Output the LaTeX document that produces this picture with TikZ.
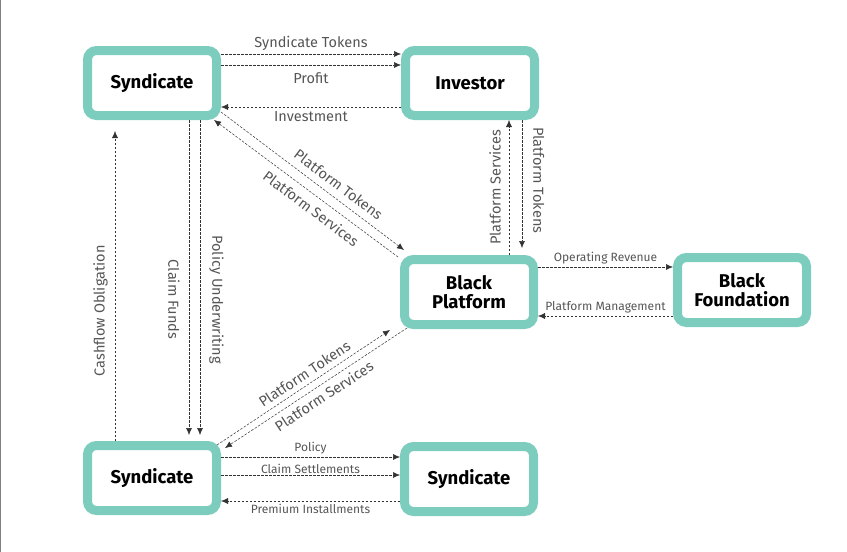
\documentclass[tikz,border=0pt]{standalone}
\usepackage{fontspec}
\setmainfont{Fira Sans}
\usetikzlibrary{arrows.meta}

\definecolor{teal1}{HTML}{7DCDBF}
\definecolor{flowgray}{HTML}{333333}
\definecolor{labelgray}{HTML}{555555}

\tikzset{
    party/.style={draw=teal1, line width=9pt, fill=white, rounded corners=9pt,
        minimum width=129pt, minimum height=65pt, inner sep=0pt, outer sep=4.5pt,
        align=center, font=\fontsize{18.5}{19}\selectfont\bfseries},
    flow/.style={draw=flowgray, dashed, dash pattern=on 2.5pt off 1.5pt, line width=0.5pt,
        -{Latex[length=7pt,width=6pt]}},
    lbl/.style={text=labelgray, font=\fontsize{14.5}{15}\selectfont, inner sep=3pt},
    smalllbl/.style={text=labelgray, font=\fontsize{12}{13}\selectfont, inner sep=2.5pt}
}

\begin{document}
\begin{tikzpicture}[x=1pt, y=-1pt]
    % Fix the size of the page
    \useasboundingbox (0,0) rectangle (847,552);
    \draw[gray, line width=0.8pt] (0.5,0) -- (0.5,552);

    % Define the boxes
    \node[party] (syn1) at (152,83) {Syndicate};
    \node[party] (inv) at (470,83) {Investor};
    \node[party] (plat) at (469,292) {Black\\Platform};
    \node[party] (found) at (742,290) {Black\\Foundation};
    \node[party] (syn2) at (152,478) {Syndicate};
    \node[party] (syn3) at (469,479) {Syndicate};

    % Draw the flows between syndicate and investor
    \draw[flow] ([yshift=29pt]syn1.east) -- ([yshift=29pt]syn1.east -| inv.west)
        node[midway, above, lbl] {Syndicate Tokens};
    \draw[flow] ([yshift=18pt]syn1.east) -- ([yshift=18pt]syn1.east -| inv.west)
        node[midway, below=4pt, lbl] {Profit};
    \draw[flow] ([yshift=-24pt]inv.west) -- ([yshift=-24pt]inv.west -| syn1.east)
        node[midway, below=1pt, lbl] {Investment};

    % Draw the flows between investor and platform
    \draw[flow] ([xshift=40pt]plat.north) -- ([xshift=40pt]plat.north |- inv.south)
        node[midway, above=5pt, sloped, lbl] {Platform Services};
    \draw[flow] ([xshift=52pt]inv.south) -- ([xshift=52pt,yshift=7pt]inv.south |- plat.north)
        node[pos=0.47, above=8pt, sloped, lbl] {Platform Tokens};

    % Draw the flows between platform and foundation
    \draw[flow] ([yshift=25pt]plat.east) -- ([yshift=25pt]plat.east -| found.west)
        node[midway, above, smalllbl] {Operating Revenue};
    \draw[flow] ([yshift=-24pt]plat.east -| found.west) -- ([yshift=-24pt]plat.east)
        node[midway, above, smalllbl] {Platform Management};

    % Draw the diagonal flows
    \draw[flow] ([yshift=8pt]syn1.south east) -- ([xshift=4pt,yshift=5pt]plat.north west)
        node[pos=0.6, above=4pt, sloped, lbl] {Platform Tokens};
    \draw[flow] ([xshift=-2pt,yshift=-2pt]plat.north west) -- ([xshift=-7pt]syn1.south east)
        node[pos=0.43, below=4pt, sloped, lbl] {Platform Services};
    \draw[flow] ([xshift=-4pt,yshift=-4pt]syn2.north east) -- ([xshift=-10pt,yshift=-1pt]plat.south west)
        node[pos=0.54, above=2pt, sloped, lbl] {Platform Tokens};
    \draw[flow] ([xshift=7pt,yshift=1pt]plat.south west) -- ([xshift=4pt,yshift=-7pt]syn2.north east)
        node[pos=0.49, below=2pt, sloped, lbl] {Platform Services};

    % Draw the vertical flows between the syndicates
    \draw[flow] ([xshift=-37pt]syn2.north) -- ([xshift=-37pt,yshift=-11pt]syn1.south)
        node[pos=0.42, above=4pt, sloped, lbl] {Cashflow Obligation};
    \draw[flow] ([xshift=37pt]syn1.south) -- ([xshift=37pt,yshift=6pt]syn2.north)
        node[pos=0.57, below=6pt, sloped, lbl] {Claim Funds};
    \draw[flow] ([xshift=48pt]syn1.south) -- ([xshift=48pt,yshift=6pt]syn2.north)
        node[pos=0.57, above=6pt, sloped, lbl] {Policy Underwriting};

    % Draw the flows between the lower syndicates
    \draw[flow] ([yshift=21pt]syn2.east) -- ([yshift=21pt]syn2.east -| syn3.west)
        node[midway, above, smalllbl] {Policy};
    \draw[flow] ([yshift=3pt]syn2.east) -- ([yshift=3pt]syn2.east -| syn3.west)
        node[midway, above, smalllbl, inner sep=1.5pt] {Claim Settlements};
    \draw[flow] ([yshift=-22pt]syn3.west) -- ([yshift=-22pt]syn3.west -| syn2.east)
        node[midway, below, smalllbl] {Premium Installments};

\end{tikzpicture}
\end{document}
